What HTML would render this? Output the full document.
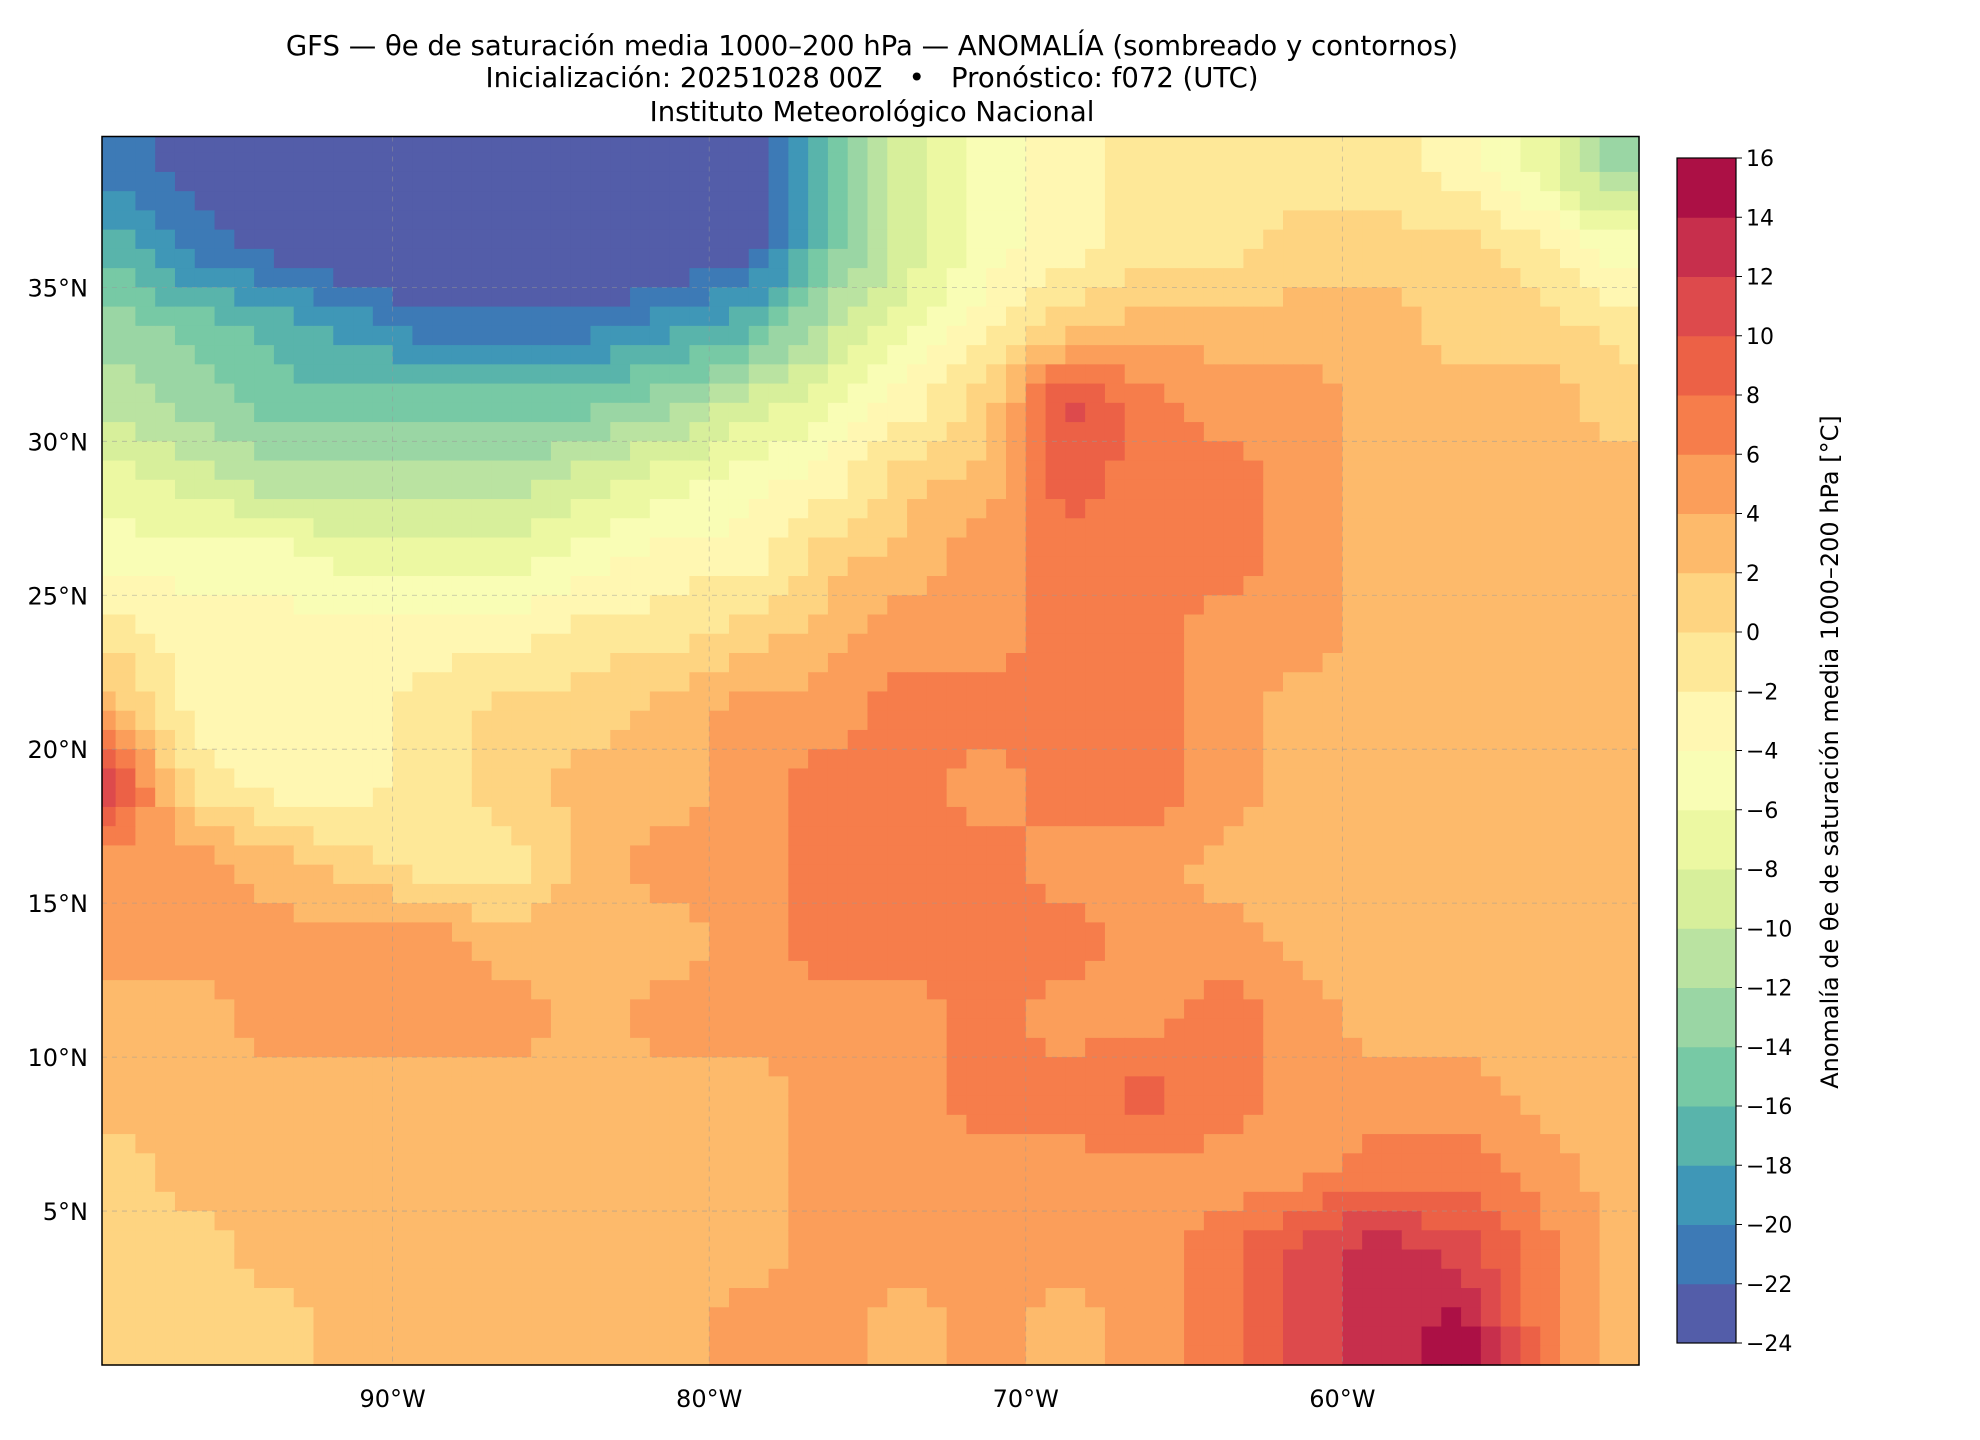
<!DOCTYPE html>
<html><head><meta charset="utf-8"><style>
body{margin:0;background:#fff;font-family:"DejaVu Sans","Liberation Sans",sans-serif}
svg{display:block}
</style></head><body>
<svg id="chart" width="1980" height="1440" xmlns="http://www.w3.org/2000/svg" font-family="DejaVu Sans, Liberation Sans, sans-serif">
<text x="872" y="55" text-anchor="middle" font-size="27.5">GFS — θe de saturación media 1000–200 hPa — ANOMALÍA (sombreado y contornos)</text>
<text x="872" y="87" text-anchor="middle" font-size="27.5" xml:space="preserve">Inicialización: 20251028 00Z   •   Pronóstico: f072 (UTC)</text>
<text x="872" y="121" text-anchor="middle" font-size="27.5">Instituto Meteorológico Nacional</text>
<g id="cells"></g>
<g id="grid"></g>
<rect x="102" y="136.5" width="1537" height="1228.5" fill="none" stroke="#000" stroke-width="1.5"/>
<g id="axes"></g>
<g id="cbar"></g>
<text transform="translate(1838,752) rotate(-90)" text-anchor="middle" font-size="24">Anomalía de θe de saturación media 1000–200 hPa [°C]</text>
</svg>
<script>
const lats=[38.75,36.25,33.75,31.25,28.75,26.25,23.75,21.25,18.75,16.25,13.75,11.25,8.75,6.25,3.75,1.25];
const lons=[-98.75,-96.25,-93.75,-91.25,-88.75,-86.25,-83.75,-81.25,-78.75,-76.25,-73.75,-71.25,-68.75,-66.25,-63.75,-61.25,-58.75,-56.25,-53.75,-51.25];
const r0=[-21,-23,-25,-25,-25,-25,-25,-25,-23,-17,-9,-5,-3,-1,-1,-1,-1,-3,-7,-13];
const r1=[-17,-21,-23,-25,-25,-25,-25,-25,-23,-15,-9,-5,-3,-1,-1,1,1,1,-1,-5];
const r2=[-13,-15,-17,-19,-21,-21,-21,-19,-17,-11,-7,-3,1,3,3,3,3,1,1,-1];
const r3=[-11,-13,-15,-15,-15,-15,-15,-13,-9,-7,-3,1,11,7,5,5,3,3,3,1];
const r4=[-7,-9,-11,-11,-11,-11,-9,-7,-5,-3,1,3,9,7,7,5,3,3,3,3];
const r5=[-5,-5,-5,-7,-7,-7,-5,-3,-3,1,3,5,7,7,7,5,3,3,3,3];
const r6=[-1,-3,-3,-3,-3,-3,-1,-1,1,3,5,5,7,7,5,5,3,3,3,3];
const r7=[3,-3,-3,-3,-1,1,1,3,5,5,7,7,7,7,5,3,3,3,3,3];
const r8=[11,-1,-3,-3,-1,1,3,3,5,7,7,5,7,7,5,3,3,3,3,3];
const r9=[5,5,3,1,-1,-1,3,5,5,7,7,7,5,5,3,3,3,3,3,3];
const r10=[5,5,5,5,5,3,3,3,5,7,7,7,7,5,5,3,3,3,3,3];
const r11=[3,3,5,5,5,5,3,5,5,5,5,7,5,5,7,5,3,3,3,3];
const r12=[3,3,3,3,3,3,3,3,3,5,5,7,7,9,7,5,5,5,3,3];
const r13=[1,3,3,3,3,3,3,3,3,5,5,5,5,5,5,5,7,7,5,3];
const r14=[1,1,3,3,3,3,3,3,3,5,5,5,5,5,7,11,13,11,7,3];
const r15=[1,1,1,3,3,3,3,3,5,5,3,5,3,5,7,11,13,15,7,3];
const values=[r0,r1,r2,r3,r4,r5,r6,r7,r8,r9,r10,r11,r12,r13,r14,r15];
const levels=[-24,-22,-20,-18,-16,-14,-12,-10,-8,-6,-4,-2,0,2,4,6,8,10,12,14,16];
const latTicks=[35,30,25,20,15,10,5];
const lonTicks=[-90,-80,-70,-60];

const NS='http://www.w3.org/2000/svg';
const L=102,R=1639,T=136.5,B=1365,lonMin=-99.18,lonMax=-50.63,latMax=39.9,latMin=0;
const xs=lon=>L+(lon-lonMin)/(lonMax-lonMin)*(R-L);
const ys=lat=>T+(latMax-lat)/(latMax-latMin)*(B-T);
const anchors=['#9e0142','#d53e4f','#f46d43','#fdae61','#fee08b','#ffffbf','#e6f598','#abdda4','#66c2a5','#3288bd','#5e4fa2'].map(h=>[1,3,5].map(i=>parseInt(h.substr(i,2),16)));
function spectralR(t){const u=(1-t)*10;const i=Math.min(9,Math.floor(u));const f=u-i;const a=anchors[i],b=anchors[i+1];return 'rgb('+a.map((v,k)=>Math.round(v+(b[k]-v)*f)).join(',')+')';}
const nLev=levels.length-1;
function colorFor(v){let i=Math.floor((v-levels[0])/2);i=Math.max(0,Math.min(nLev-1,i));return spectralR((i+0.5)/nLev);}
function mk(tag,attrs,parent){const e=document.createElementNS(NS,tag);for(const k in attrs)e.setAttribute(k,attrs[k]);parent.appendChild(e);return e;}
function val(ri,ci){ri=Math.max(0,Math.min(values.length-1,ri));ci=Math.max(0,Math.min(lons.length-1,ci));return values[ri][ci];}
function sample(fr,fc){const r0i=Math.floor(fr),c0i=Math.floor(fc);const dr=fr-r0i,dc=fc-c0i;
  return val(r0i,c0i)*(1-dr)*(1-dc)+val(r0i,c0i+1)*(1-dr)*dc+val(r0i+1,c0i)*dr*(1-dc)+val(r0i+1,c0i+1)*dr*dc;}
const cells=document.getElementById('cells');
const SUB=4;
values.forEach((row,ri)=>row.forEach((v,ci)=>{
  const g=mk('g',{},cells);
  
  
  for(let a=0;a<SUB;a++)for(let b=0;b<SUB;b++){
    const latTop=lats[ri]+1.25-2.5*a/SUB, lonLeft=lons[ci]-1.25+2.5*b/SUB;
    const fr=ri+(a+0.5)/SUB-0.5, fc=ci+(b+0.5)/SUB-0.5;
    const sv=sample(fr,fc);
    let x0=Math.max(L,xs(lonLeft)),x1=Math.min(R,xs(lonLeft+2.5/SUB));
    let y0=Math.max(T,ys(latTop)),y1=Math.min(B,ys(latTop-2.5/SUB));
    if(x1<=x0||y1<=y0)continue;
    mk('rect',{x:x0,y:y0,width:x1-x0+0.6,height:y1-y0+0.6,fill:colorFor(sv)},g);
  }
}));
const grid=document.getElementById('grid'),axes=document.getElementById('axes');
latTicks.forEach(lat=>{const y=ys(lat);
  const g=mk('line',{x1:L,x2:R,y1:y,y2:y,stroke:'#999','stroke-dasharray':'5,5','stroke-width':0.8,opacity:0.6},grid);
  
  const t=mk('text',{x:L-14,y:y+9,'text-anchor':'end','font-size':24},axes);t.textContent=lat+'°N';
  });
lonTicks.forEach(lon=>{const x=xs(lon);
  const g=mk('line',{x1:x,x2:x,y1:T,y2:B,stroke:'#999','stroke-dasharray':'5,5','stroke-width':0.8,opacity:0.6},grid);
  
  const t=mk('text',{x:x,y:B+42,'text-anchor':'middle','font-size':24},axes);t.textContent=(-lon)+'°W';
  });
const cb=document.getElementById('cbar');const cx=1677,cw=59,cTop=158,cBot=1343;
const cy=v=>cBot-(v-levels[0])/(levels[nLev]-levels[0])*(cBot-cTop);
for(let i=0;i<nLev;i++){const r=mk('rect',{x:cx,y:cy(levels[i+1]),width:cw,height:cy(levels[i])-cy(levels[i+1])+0.5,fill:spectralR((i+0.5)/nLev)},cb);
  }
mk('rect',{x:cx,y:cTop,width:cw,height:cBot-cTop,fill:'none',stroke:'#000','stroke-width':1.2},cb);
levels.forEach(v=>{const y=cy(v);mk('line',{x1:cx+cw,x2:cx+cw+6,y1:y,y2:y,stroke:'#000'},cb);
  const t=mk('text',{x:cx+cw+10,y:y+8,'font-size':22},cb);t.textContent=v<0?'−'+(-v):v;
  });
</script>
</body></html>
